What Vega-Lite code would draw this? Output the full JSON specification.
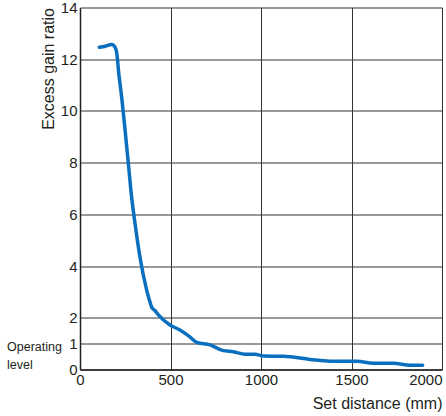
{
  "$schema": "https://vega.github.io/schema/vega-lite/v6.json",
  "width": 362,
  "height": 362,
  "autosize": {"type": "none"},
  "padding": {"left": 80, "top": 7.5, "right": 3.5, "bottom": 46.5},
  "background": "white",
  "config": {
    "view": {"stroke": null},
    "font": "Liberation Sans",
    "axis": {
      "labelFont": "Liberation Sans",
      "titleFont": "Liberation Sans",
      "labelFontSize": 15,
      "titleFontSize": 16,
      "labelColor": "#231f20",
      "titleColor": "#231f20",
      "titleFontWeight": "normal",
      "gridColor": "#333333",
      "gridOpacity": 1,
      "gridWidth": 1,
      "domainColor": "#231f20",
      "domainWidth": 1.5,
      "ticks": false
    }
  },
  "data": {
    "values": [
      {"d": 107, "r": 12.46},
      {"d": 140, "r": 12.5},
      {"d": 175, "r": 12.57},
      {"d": 195, "r": 12.45},
      {"d": 203, "r": 12.23},
      {"d": 215, "r": 11.4},
      {"d": 230, "r": 10.55},
      {"d": 249, "r": 9.26},
      {"d": 267, "r": 7.98},
      {"d": 285, "r": 6.68},
      {"d": 304, "r": 5.65},
      {"d": 331, "r": 4.36},
      {"d": 368, "r": 3.08},
      {"d": 387, "r": 2.6},
      {"d": 398, "r": 2.38},
      {"d": 414, "r": 2.28},
      {"d": 433, "r": 2.11},
      {"d": 497, "r": 1.72},
      {"d": 552, "r": 1.53},
      {"d": 600, "r": 1.3},
      {"d": 645, "r": 1.05},
      {"d": 718, "r": 0.95},
      {"d": 792, "r": 0.73},
      {"d": 847, "r": 0.69},
      {"d": 912, "r": 0.59},
      {"d": 967, "r": 0.59},
      {"d": 1013, "r": 0.52},
      {"d": 1123, "r": 0.51},
      {"d": 1271, "r": 0.39},
      {"d": 1381, "r": 0.32},
      {"d": 1529, "r": 0.32},
      {"d": 1621, "r": 0.24},
      {"d": 1731, "r": 0.24},
      {"d": 1823, "r": 0.16},
      {"d": 1893, "r": 0.16}
    ]
  },
  "layer": [
    {
      "mark": {"type": "line", "color": "#0a6fbf", "strokeWidth": 3.5, "interpolate": "monotone", "strokeCap": "round"},
      "encoding": {
        "x": {
          "field": "d",
          "type": "quantitative",
          "scale": {"domain": [0, 2000], "nice": false},
          "axis": {
            "title": "Set distance (mm)",
            "values": [0, 500, 1000, 1500, 2000],
            "format": "d",
            "grid": true,
            "labelPadding": 3,
            "labelAlign": {"condition": {"test": "datum.value == 2000", "value": "right"}, "value": "center"},
            "titleAnchor": "end",
            "titleAlign": "right",
            "titlePadding": 8
          }
        },
        "y": {
          "field": "r",
          "type": "quantitative",
          "scale": {"domain": [0, 14], "nice": false},
          "axis": {
            "title": "Excess gain ratio",
            "values": [0, 1, 2, 4, 6, 8, 10, 12, 14],
            "grid": true,
            "labelPadding": 3,
            "titleAnchor": "end",
            "titlePadding": 4
          }
        }
      }
    },
    {
      "data": {"values": [{"t": "Operating\nlevel", "x": 0, "y": 1}]},
      "mark": {"type": "text", "align": "left", "baseline": "middle", "dx": -73, "dy": 3, "lineBreak": "\n", "lineHeight": 18, "fontSize": 12.5, "font": "Liberation Sans", "color": "#231f20"},
      "encoding": {
        "x": {"field": "x", "type": "quantitative"},
        "y": {"field": "y", "type": "quantitative"},
        "text": {"field": "t"}
      }
    }
  ]
}
